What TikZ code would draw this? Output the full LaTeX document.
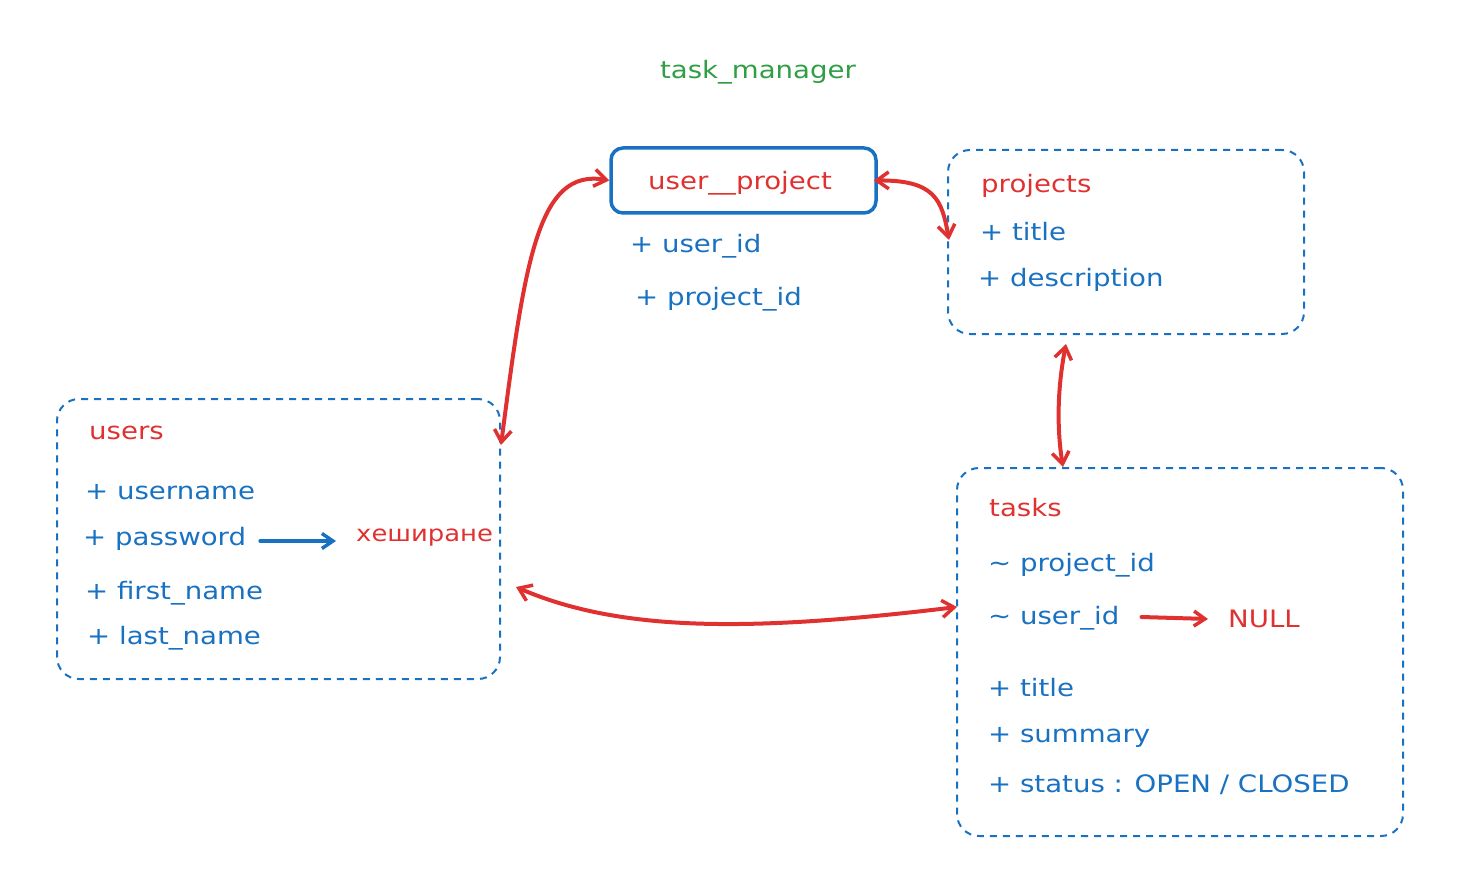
\documentclass[tikz,border=0pt]{standalone}
\usepackage{fontspec}
\setmainfont{DejaVu Sans}[FakeStretch=1.15]
\usetikzlibrary{arrows.meta,calc}
\definecolor{exblue}{HTML}{1971C2}
\definecolor{exred}{HTML}{E03131}
\definecolor{exgreen}{HTML}{2F9E44}
\tikzset{
  dbox/.style={draw=exblue, line width=2pt, dash pattern=on 7pt off 6pt, rounded corners=22pt, inner sep=0pt},
  sbox/.style={draw=exblue, line width=3.5pt, rounded corners=12pt, inner sep=0pt},
  txt/.style={anchor=west, inner sep=0pt, font=\fontsize{24}{28}\selectfont},
  bt/.style={txt, text=exblue},
  rt/.style={txt, text=exred},
  rel/.style={draw=exred, line width=4pt, line cap=round, {Straight Barb[length=12pt,width=17pt,line width=3.5pt]}-{Straight Barb[length=12pt,width=17pt,line width=3.5pt]}},
  note/.style={line width=4pt, line cap=round, -{Straight Barb[length=11pt,width=15pt,line width=3.5pt]}}
}
\begin{document}
\begin{tikzpicture}[x=1pt,y=-1pt]
\useasboundingbox (0,0) rectangle (1483,896);
% title
\node[txt, anchor=center, text=exgreen] (title) at (758,72) {task\_manager};
% user__project
\node[sbox, minimum width=265pt, minimum height=65pt] (up) at (743.5,180.5) {};
\node[rt, anchor=center] (uptxt) at (740,183) {user\_\_project};
\node[bt] (upa) at (630,246) {+ user\_id};
\node[bt] (upb) at (635,299) {+ project\_id};
% projects
\node[dbox, minimum width=356pt, minimum height=184pt] (projects) at (1126,242) {};
\node[rt] (prt) at (981,186) {projects};
\node[bt] (pra) at (980,232) {+ title};
\node[bt] (prb) at (978,280) {+ description};
% users
\node[dbox, minimum width=443pt, minimum height=280pt] (users) at (278.5,539) {};
\node[rt] (ust) at (89,433) {users};
\node[bt] (usa) at (85,492) {+ username};
\node[bt] (usb) at (83,539) {+ password};
\node[rt, font=\fontsize{22.5}{27}\selectfont] (hash) at (356,538) {хеширане};
\node[bt] (usc) at (85,593) {+ first\_name};
\node[bt] (usd) at (87,638) {+ last\_name};
% tasks
\node[dbox, minimum width=446pt, minimum height=368pt] (tasks) at (1180,652) {};
\node[rt] (tkt) at (989,508) {tasks};
\node[bt] (tka) at (988,565) {\char"223C{} project\_id};
\node[bt] (tkb) at (988,618) {\char"223C{} user\_id};
\node[rt] (null) at (1228,619) {NULL};
\node[bt] (tkc) at (988,688) {+ title};
\node[bt] (tkd) at (988,737) {+ summary};
\node[bt] (tke) at (988,785) {+ status : OPEN / CLOSED};
% side notes
\draw[note, draw=exblue] ([xshift=14pt,yshift=-2pt]usb.east) -- ([xshift=-20pt,yshift=-3pt]hash.west);
\draw[note, draw=exred] ([xshift=22pt,yshift=1pt]tkb.east) -- ([xshift=-20pt]null.west);
% relations
\draw[rel] ([yshift=94pt]users.east) .. controls (525,260) and (538,168) .. (up.west);
\draw[rel] ([xshift=-4pt]up.east) .. controls (935,180) and (942,200) .. ([xshift=2pt,yshift=2pt]projects.west);
\draw[rel] ([xshift=-60pt,yshift=-9pt]projects.south) .. controls (1057,390) and (1057,430) .. ([xshift=-117pt]tasks.north);
\draw[rel] ([xshift=15pt,yshift=-48pt]users.east) .. controls (620,632) and (750,632) .. ([xshift=1pt,yshift=45pt]tasks.west);
\end{tikzpicture}
\end{document}
